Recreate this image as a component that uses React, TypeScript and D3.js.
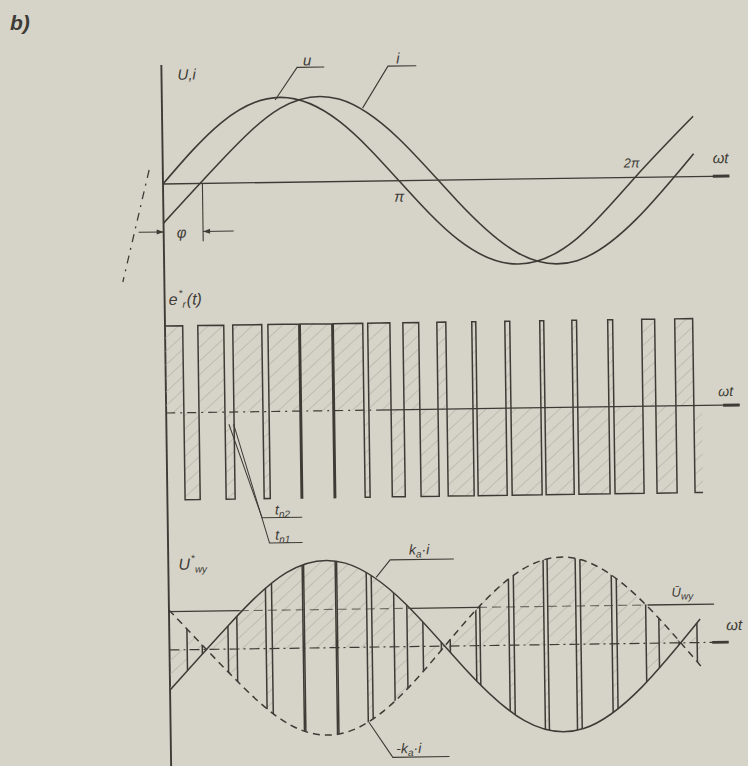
import React from "react";
import * as d3 from "d3";

// Phase grid in multiples of π (ωt / π) used for the sinusoidal curves
const phaseGrid = [0, 0.25, 0.5, 0.75, 1, 1.25, 1.5, 1.75, 2, 2.25];
// Supply voltage u and load current i, normalised to their amplitudes
const voltageU = [0, 0.71, 1, 0.71, 0, -0.71, -1, -0.71, 0, 0.71];
const currentI = [-0.46, 0.27, 0.87, 0.97, 0.5, -0.26, -0.87, -0.97, -0.5, 0.27];
// Phase lag φ of the current (ωt / π)
const phaseShift = 0.167;

// Switching instants of e*(t) in ωt / π; the signal starts at +E and flips at each edge
const switchEdges = [
  0.075, 0.139, 0.249, 0.287, 0.41, 0.436, 0.567, 0.573, 0.707, 0.713,
  0.838, 0.859, 0.953, 1.008, 1.075, 1.152, 1.19, 1.3, 1.317, 1.44,
  1.461, 1.588, 1.605, 1.724, 1.744, 1.876, 1.897, 2.02, 2.075, 2.16, 2.236,
];
const pulseEnd = 2.27;

// Mean output voltage Ū_wy (relative to k_a·i amplitude)
const meanLevel = 0.44;
const meanSolidSpans: [number, number][] = [[0, 0.3], [1.02, 1.31], [2.03, 2.31]];
const meanDashedSpans: [number, number][] = [[0.3, 1.02], [1.31, 2.03]];

// Angle marks on the ωt axis of the top plot
const angleMarks = [
  { at: 1, label: "π" },
  { at: 2, label: "2π" },
];

const W = 748;
const H = 766;
const ink = "#3e3b36";
const paper = "#d6d4c9";
const hatchInk = "#aeab9f";
const font = "'Liberation Sans', Arial, sans-serif";

export default function App() {
  const x = d3.scaleLinear().domain([0, 2]).range([163, 635]);
  const yTop = d3.scaleLinear().domain([-1, 1]).range([269, 99]);
  const yMid = d3.scaleLinear().domain([-1, 1]).range([500, 326]);
  const yBot = d3.scaleLinear().domain([-1, 1]).range([737, 563]);

  const px = (_: number, k: number) => x(phaseGrid[k]);
  const curveTop = (vals: number[]) =>
    d3.line<number>().x(px).y((v) => yTop(v)).curve(d3.curveNatural)(vals) || "";
  const envLine = (sign: number) =>
    d3.line<number>().x(px).y((v) => yBot(sign * v)).curve(d3.curveNatural)(currentI) || "";
  const envArea = (sign: number) =>
    d3
      .area<number>()
      .x(px)
      .y0(yBot(0))
      .y1((v) => yBot(sign * v))
      .curve(d3.curveNatural)(currentI) || "";
  const envBand =
    d3
      .area<number>()
      .x(px)
      .y0((v) => yBot(-v))
      .y1((v) => yBot(v))
      .curve(d3.curveNatural)(currentI) || "";

  const bounds = [0, ...switchEdges, pulseEnd];
  const intervals = bounds.slice(0, -1).map((x0, k) => ({
    x0,
    x1: bounds[k + 1],
    s: k % 2 === 0 ? 1 : -1,
  }));

  // PWM waveform e*(t)
  let pwm = `M${x(0)},${yMid(1)}`;
  intervals.forEach((iv, k) => {
    pwm += `H${x(iv.x1)}`;
    if (k < intervals.length - 1) pwm += `V${yMid(-iv.s)}`;
  });

  const txt = {
    fontFamily: font,
    fontStyle: "italic" as const,
    fill: ink,
  };

  const phiY = yTop(-0.565);
  const x0 = x(0);
  const xPhi = x(phaseShift);

  return (
    <svg
      width={W}
      height={H}
      viewBox={`0 0 ${W} ${H}`}
      style={{ position: "absolute", left: 0, top: 0, display: "block" }}
    >
      <defs>
        <pattern
          id="hatch"
          patternUnits="userSpaceOnUse"
          width={10}
          height={10}
          patternTransform="rotate(48)"
        >
          <line x1={0} y1={0} x2={0} y2={10} stroke={hatchInk} strokeWidth={1.2} />
        </pattern>
        <clipPath id="clipPos">
          {intervals
            .filter((iv) => iv.s > 0)
            .map((iv, k) => (
              <rect key={k} x={x(iv.x0)} y={540} width={x(iv.x1) - x(iv.x0)} height={220} />
            ))}
        </clipPath>
        <clipPath id="clipNeg">
          {intervals
            .filter((iv) => iv.s < 0)
            .map((iv, k) => (
              <rect key={k} x={x(iv.x0)} y={540} width={x(iv.x1) - x(iv.x0)} height={220} />
            ))}
        </clipPath>
        <clipPath id="clipBand">
          <path d={envBand} />
        </clipPath>
      </defs>

      <rect x={0} y={0} width={W} height={H} fill={paper} />

      <text x={10} y={30} style={txt} fontSize={21} fontWeight="bold">
        b)
      </text>

      <g transform="rotate(-0.8 163 184)">
        {/* common vertical axis */}
        <line x1={x0} y1={65} x2={x0} y2={780} stroke={ink} strokeWidth={1.9} />

        {/* ---------- top plot: u and i ---------- */}
        <line x1={x0} y1={yTop(0)} x2={x(2.4)} y2={yTop(0)} stroke={ink} strokeWidth={1.3} />
        <line x1={x(2.33)} y1={yTop(0)} x2={x(2.4)} y2={yTop(0)} stroke={ink} strokeWidth={3} />
        <path d={curveTop(voltageU)} fill="none" stroke={ink} strokeWidth={1.6} />
        <path d={curveTop(currentI)} fill="none" stroke={ink} strokeWidth={1.6} />

        <text x={179} y={80} style={txt} fontSize={15}>
          U,i
        </text>

        {/* curve labels with leaders */}
        <path
          d={`M${x(0.48)},${yTop(0.97)} L${x(0.575)},${yTop(1.35)} H${x(0.69)}`}
          fill="none"
          stroke={ink}
          strokeWidth={1.1}
        />
        <text x={x(0.6)} y={yTop(1.37)} style={txt} fontSize={15}>
          u
        </text>
        <path
          d={`M${x(0.85)},${yTop(0.86)} L${x(0.96)},${yTop(1.35)} H${x(1.08)}`}
          fill="none"
          stroke={ink}
          strokeWidth={1.1}
        />
        <text x={x(0.995)} y={yTop(1.38)} style={txt} fontSize={15}>
          i
        </text>

        {angleMarks.map((m) => (
          <text
            key={m.label}
            x={m.at === 1 ? x(m.at) : x(m.at) - 3}
            y={m.at === 1 ? yTop(0) + 21 : yTop(0) - 10}
            textAnchor="middle"
            style={txt}
            fontSize={m.at === 1 ? 15 : 13}
          >
            {m.label}
          </text>
        ))}
        <text x={x(2.33)} y={yTop(0) - 13} style={txt} fontSize={15}>
          ωt
        </text>

        {/* phase shift φ */}
        <line x1={xPhi} y1={yTop(0)} x2={xPhi} y2={yTop(-0.68)} stroke={ink} strokeWidth={1.1} />
        <line x1={x(-0.106)} y1={phiY} x2={x0} y2={phiY} stroke={ink} strokeWidth={1} />
        <path d={`M${x0 - 7},${phiY - 2.5} L${x0},${phiY} L${x0 - 7},${phiY + 2.5} Z`} fill={ink} />
        <line x1={x(0.297)} y1={phiY} x2={xPhi} y2={phiY} stroke={ink} strokeWidth={1} />
        <path d={`M${xPhi + 7},${phiY - 2.5} L${xPhi},${phiY} L${xPhi + 7},${phiY + 2.5} Z`} fill={ink} />
        <text x={x(0.055)} y={phiY + 6} style={txt} fontSize={15}>
          φ
        </text>
        <line
          x1={x(-0.058)}
          y1={yTop(0.167)}
          x2={x(-0.176)}
          y2={yTop(-1.146)}
          stroke={ink}
          strokeWidth={1.3}
          strokeDasharray="8 6 2 6"
        />

        {/* ---------- middle plot: e*(t) ---------- */}
        <text x={167} y={305} style={txt} fontSize={16}>
          e
          <tspan dx={1} dy={-8} fontSize={10}>
            *
          </tspan>
          <tspan dx={0} dy={11} fontSize={10}>
            r
          </tspan>
          <tspan dx={1} dy={-3}>(t)</tspan>
        </text>

        {intervals.map((iv, k) => (
          <rect
            key={k}
            x={x(iv.x0)}
            y={Math.min(yMid(0), yMid(iv.s))}
            width={x(iv.x1) - x(iv.x0)}
            height={Math.abs(yMid(iv.s) - yMid(0))}
            fill="url(#hatch)"
          />
        ))}
        <line
          x1={x0}
          y1={yMid(0)}
          x2={x(0.89)}
          y2={yMid(0)}
          stroke={ink}
          strokeWidth={1.2}
          strokeDasharray="9 5 2 5"
        />
        <line x1={x(0.89)} y1={yMid(0)} x2={x(2.43)} y2={yMid(0)} stroke={ink} strokeWidth={1.3} />
        <line x1={x(2.36)} y1={yMid(0)} x2={x(2.43)} y2={yMid(0)} stroke={ink} strokeWidth={3} />
        <path d={pwm} fill="none" stroke={ink} strokeWidth={1.5} />
        <text x={x(2.34)} y={yMid(0) - 9} style={txt} fontSize={14}>
          ωt
        </text>

        {/* switching-instant labels */}
        <path
          d={`M${x(0.265)},${yMid(-0.14)} L${x(0.4)},${yMid(-1.22)} H${x(0.57)}`}
          fill="none"
          stroke={ink}
          strokeWidth={1}
        />
        <path
          d={`M${x(0.285)},${yMid(-0.14)} L${x(0.43)},${yMid(-1.51)} H${x(0.57)}`}
          fill="none"
          stroke={ink}
          strokeWidth={1}
        />
        <text x={x(0.455)} y={yMid(-1.22) - 3} style={txt} fontSize={14}>
          t
          <tspan dy={3} fontSize={10}>
            n2
          </tspan>
        </text>
        <text x={x(0.455)} y={yMid(-1.51) - 3} style={txt} fontSize={14}>
          t
          <tspan dy={3} fontSize={10}>
            n1
          </tspan>
        </text>

        {/* ---------- bottom plot: U*_wy ---------- */}
        <text x={173} y={570} style={txt} fontSize={16}>
          U
          <tspan dx={1} dy={-8} fontSize={10}>
            *
          </tspan>
          <tspan dx={0} dy={11} fontSize={10}>
            wy
          </tspan>
        </text>

        <path d={envArea(1)} fill="url(#hatch)" clipPath="url(#clipPos)" />
        <path d={envArea(-1)} fill="url(#hatch)" clipPath="url(#clipNeg)" />

        <line
          x1={x0}
          y1={yBot(0)}
          x2={x(2.37)}
          y2={yBot(0)}
          stroke={ink}
          strokeWidth={1.2}
          strokeDasharray="10 4 2 4"
        />
        <line x1={x(2.3)} y1={yBot(0)} x2={x(2.37)} y2={yBot(0)} stroke={ink} strokeWidth={2.6} />
        <text x={x(2.36)} y={yBot(0) - 12} style={txt} fontSize={15}>
          ωt
        </text>

        {/* switching edges spanning the envelope */}
        <g clipPath="url(#clipBand)">
          {switchEdges.map((e, k) => (
            <line
              key={k}
              x1={x(e)}
              y1={yBot(1.2)}
              x2={x(e)}
              y2={yBot(-1.2)}
              stroke={ink}
              strokeWidth={1.5}
            />
          ))}
        </g>

        <path d={envLine(1)} fill="none" stroke={ink} strokeWidth={1.5} />
        <path d={envLine(-1)} fill="none" stroke={ink} strokeWidth={1.5} strokeDasharray="7 5" />

        {meanSolidSpans.map(([a, b], k) => (
          <line key={`s${k}`} x1={x(a)} y1={yBot(meanLevel)} x2={x(b)} y2={yBot(meanLevel)} stroke={ink} strokeWidth={1.3} />
        ))}
        {meanDashedSpans.map(([a, b], k) => (
          <line
            key={`d${k}`}
            x1={x(a)}
            y1={yBot(meanLevel)}
            x2={x(b)}
            y2={yBot(meanLevel)}
            stroke={ink}
            strokeWidth={1.1}
            strokeDasharray="9 5"
            opacity={0.7}
          />
        ))}
        <text x={x(2.13)} y={yBot(meanLevel) - 8} style={txt} fontSize={13}>
          Ū
          <tspan dy={3} fontSize={10}>
            wy
          </tspan>
        </text>

        {/* envelope labels */}
        <path
          d={`M${x(0.88)},${yBot(0.8)} L${x(0.94)},${yBot(1.0)} H${x(1.21)}`}
          fill="none"
          stroke={ink}
          strokeWidth={1.1}
        />
        <text x={x(1.02)} y={yBot(1.0) - 5} style={txt} fontSize={14}>
          k
          <tspan dy={3} fontSize={10}>
            a
          </tspan>
          <tspan dy={-3}>·i</tspan>
        </text>
        <path
          d={`M${x(0.84)},${yBot(-0.86)} L${x(0.94)},${yBot(-1.27)} H${x(1.18)}`}
          fill="none"
          stroke={ink}
          strokeWidth={1.1}
        />
        <text x={x(0.955)} y={yBot(-1.27) - 4} style={txt} fontSize={14}>
          -k
          <tspan dy={3} fontSize={10}>
            a
          </tspan>
          <tspan dy={-3}>·i</tspan>
        </text>
      </g>
    </svg>
  );
}
